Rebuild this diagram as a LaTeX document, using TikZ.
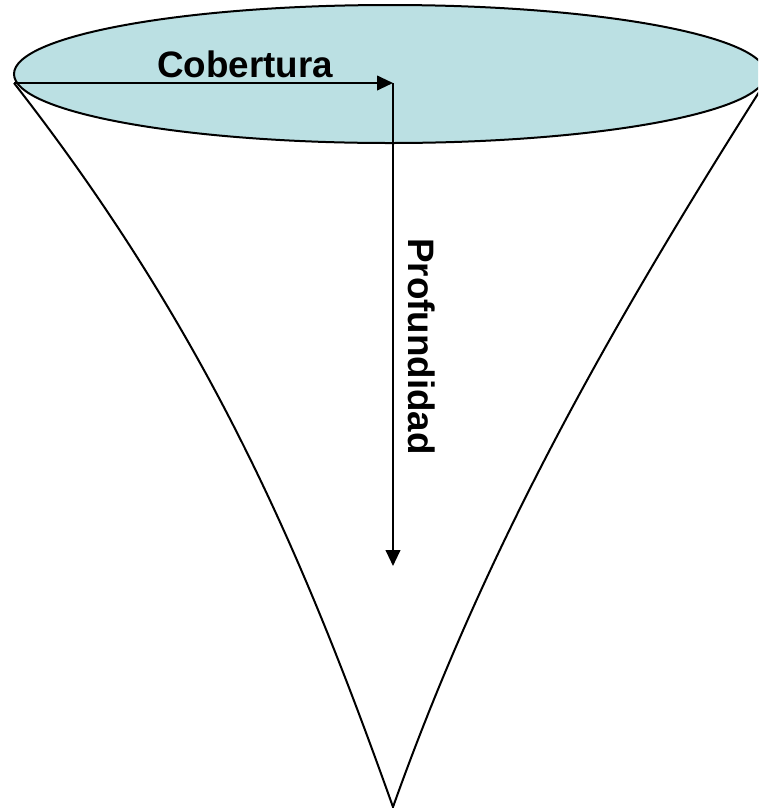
\documentclass[tikz,border=0pt]{standalone}
\usepackage{fontspec}
\setmainfont{Liberation Sans}
\usetikzlibrary{arrows.meta}
\definecolor{capfill}{RGB}{187,224,227}
\begin{document}
\begin{tikzpicture}[x=0.75pt,y=-0.75pt,
  outline/.style={line width=1.5pt, draw=black},
  arrowline/.style={line width=1.5pt, -{Triangle[length=12pt,width=11pt]}},
  lbl/.style={font=\bfseries\fontsize{27.6}{30}\selectfont, inner sep=0pt}]
\useasboundingbox (0,0) rectangle (758,808);
\clip (0,0) rectangle (758,808);
\coordinate (rimL) at (14,83);
\coordinate (rimR) at (768,78);
\coordinate (apex) at (393,807);
\coordinate (centre) at (393,83);
\coordinate (depth) at (393,566);
\draw[outline] (rimL) .. controls (209,333) and (304,557) .. (apex) .. controls (482,557) and (600,342) .. (rimR);
\filldraw[outline, fill=capfill] (390,74) ellipse [x radius=376, y radius=69];
\draw[arrowline] (rimL) -- (centre);
\draw[arrowline] (centre) -- (depth);
\node[lbl, anchor=base] (cob) at (245,77) {Cobertura};
\node[lbl, anchor=base, rotate=-90] (prof) at (408,346.5) {Profundidad};
\end{tikzpicture}
\end{document}
